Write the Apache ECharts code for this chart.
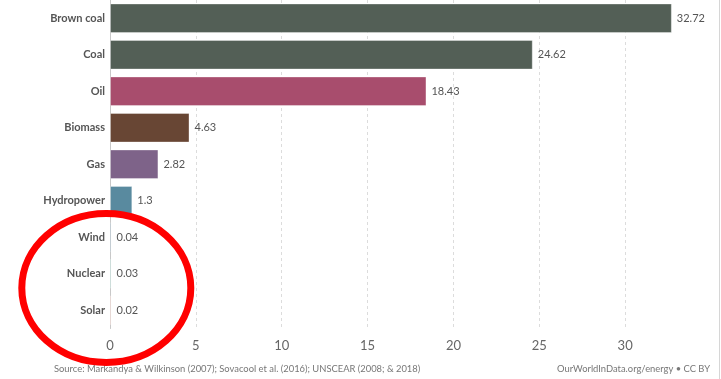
<!DOCTYPE html>
<html>
<head>
<meta charset="utf-8">
<script src="https://cdn.jsdelivr.net/npm/echarts@6/dist/echarts.min.js"></script>
<style>
html,body{margin:0;padding:0;background:#fff;}
#c{width:721px;height:379px;}
</style>
</head>
<body>
<div id="c"></div>
<script>
const categories = ['Brown coal', 'Coal', 'Oil', 'Biomass', 'Gas', 'Hydropower', 'Wind', 'Nuclear', 'Solar'];
const values = [32.72, 24.62, 18.43, 4.63, 2.82, 1.3, 0.04, 0.03, 0.02];
const barColors = ['#535f56', '#535f56', '#a84d6d', '#684634', '#7e6389', '#598a9f', '#5f7f94', '#7dbaae', '#d9a59b'];
const xTicks = [0, 5, 10, 15, 20, 25, 30];
const sourceText = 'Source: Markandya & Wilkinson (2007); Sovacool et al. (2016); UNSCEAR (2008; & 2018)';
const creditText = 'OurWorldInData.org/energy \u2022 CC BY';

const chart = echarts.init(document.getElementById('c'), null, {renderer: 'canvas'});
const FONT = 'Lato, "Open Sans", sans-serif';

chart.setOption({
  animation: false,
  grid: {left: 110, right: 10, top: -1, height: 329.5, containLabel: false},
  xAxis: {
    type: 'value', min: 0, max: 35, interval: 5,
    axisLine: {show: false}, axisTick: {show: false},
    axisLabel: {
      color: '#666', fontSize: 13, fontFamily: FONT, margin: 11, showMaxLabel: false,
      formatter: v => xTicks.indexOf(v) >= 0 ? String(v) : ''
    },
    splitLine: {show: true, lineStyle: {type: [3, 3], width: 1,
      color: ['rgba(0,0,0,0)', '#dcdcdc', '#dcdcdc', '#dcdcdc', '#dcdcdc', '#dcdcdc', '#dcdcdc', 'rgba(0,0,0,0)']}}
  },
  yAxis: {
    type: 'category', data: categories, inverse: true,
    axisLine: {show: true, lineStyle: {color: '#c8c8c8', width: 1}},
    axisTick: {show: false},
    axisLabel: {color: '#555', fontSize: 11, fontWeight: 'bold', fontFamily: FONT, margin: 5}
  },
  series: [{
    type: 'bar',
    barCategoryGap: '19%',
    barMinHeight: 1.5,
    data: values.map((v, i) => ({value: v, itemStyle: {color: barColors[i]}})),
    itemStyle: {borderColor: 'rgba(255,255,255,0.35)', borderWidth: 1},
    label: {show: true, position: 'right', distance: 5, color: '#555', fontSize: 11, fontFamily: FONT,
      formatter: p => String(p.value)}
  }],
  graphic: [
    {type: 'line', shape: {x1: 719.5, y1: 0, x2: 719.5, y2: 379}, style: {stroke: '#d6d6d6', lineWidth: 1}},
    {type: 'text', left: 54, top: 364, style: {text: sourceText, fill: '#777', font: '9.4px ' + FONT}},
    {type: 'text', right: 11, top: 364, style: {text: creditText, fill: '#777', font: '9.4px ' + FONT}},
    {type: 'ellipse', z: 100, shape: {cx: 106.3, cy: 288, rx: 84.5, ry: 74.5},
      style: {fill: 'none', stroke: '#ff0000', lineWidth: 7}}
  ]
});
</script>
</body>
</html>
